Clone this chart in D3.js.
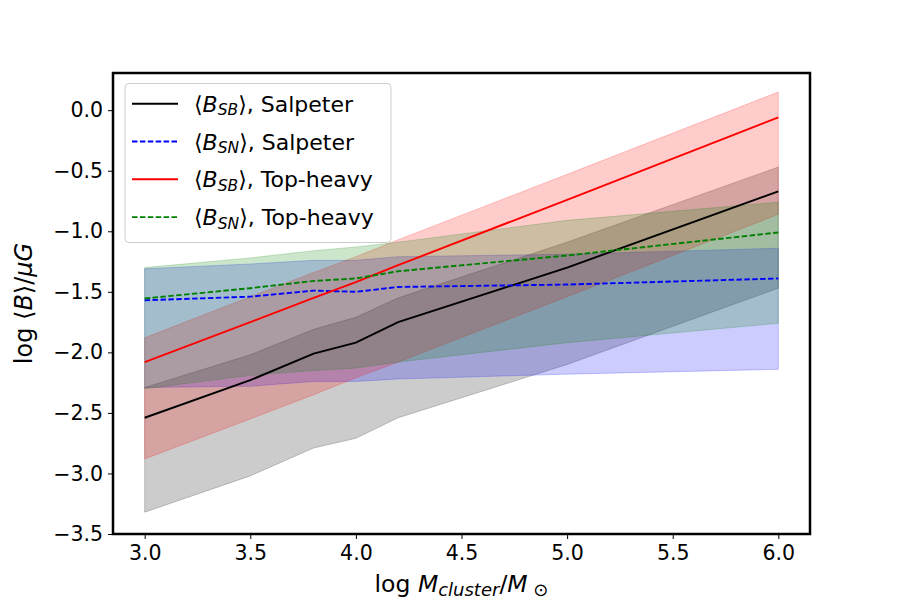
<!DOCTYPE html>
<html>
<head>
<meta charset="utf-8">
<script src="https://cdn.jsdelivr.net/npm/d3@7"></script>
<style>
  body { margin: 0; background: #fff; }
  text { font-family: "DejaVu Sans", sans-serif; }
</style>
</head>
<body>
<div id="chart"></div>
<script>
// cluster masses (log)
const logM = [3.0, 3.5, 3.8, 4.0, 4.2, 5.0, 6.0];

// <B_SB>, Salpeter
const sbSalMean = [-2.54, -2.23, -2.01, -1.92, -1.75, -1.30, -0.67];
const sbSalHi   = [-2.29, -2.02, -1.81, -1.71, -1.55, -1.09, -0.47];
const sbSalLo   = [-3.32, -3.02, -2.79, -2.71, -2.54, -2.10, -1.47];

// <B_SN>, Salpeter
const snSalMean = [-1.57, -1.54, -1.49, -1.50, -1.46, -1.44, -1.39];
const snSalHi   = [-1.31, -1.27, -1.24, -1.24, -1.21, -1.19, -1.14];
const snSalLo   = [-2.29, -2.28, -2.24, -2.24, -2.22, -2.18, -2.14];

// <B_SB>, Top-heavy
const sbTopMean = [-2.08, -1.75, -1.55, -1.42, -1.28, -0.74, -0.06];
const sbTopHi   = [-1.88, -1.54, -1.34, -1.21, -1.07, -0.53, 0.15];
const sbTopLo   = [-2.88, -2.55, -2.35, -2.21, -2.08, -1.54, -0.86];

// <B_SN>, Top-heavy
const snTopMean = [-1.555, -1.47, -1.41, -1.39, -1.33, -1.20, -1.01];
const snTopHi   = [-1.30, -1.22, -1.16, -1.13, -1.09, -0.91, -0.76];
const snTopLo   = [-2.30, -2.19, -2.15, -2.13, -2.08, -1.92, -1.76];

const xTicks = [3.0, 3.5, 4.0, 4.5, 5.0, 5.5, 6.0];
const yTicks = [-3.5, -3.0, -2.5, -2.0, -1.5, -1.0, -0.5, 0.0];

const series = [
  {sub: "SB", name: "Salpeter",  color: "#000000", dash: null,      mean: sbSalMean, hi: sbSalHi, lo: sbSalLo},
  {sub: "SN", name: "Salpeter",  color: "#0000ff", dash: "5.5,2.4", mean: snSalMean, hi: snSalHi, lo: snSalLo},
  {sub: "SB", name: "Top-heavy", color: "#ff0000", dash: null,      mean: sbTopMean, hi: sbTopHi, lo: sbTopLo},
  {sub: "SN", name: "Top-heavy", color: "#008000", dash: "5.5,2.4", mean: snTopMean, hi: snTopHi, lo: snTopLo}
];

const w = 900, h = 600;
const pl = 113, pr = 810, pt = 73, pb = 534;

const svg = d3.select("#chart").append("svg")
  .attr("width", w)
  .attr("height", h);

const xScale = d3.scaleLinear().domain([2.85, 6.15]).range([pl, pr]);
const yScale = d3.scaleLinear().domain([-3.5, 0.307]).range([pb, pt]);

// bands
const area = d3.area()
  .x(d => xScale(d[0]))
  .y0(d => yScale(d[1]))
  .y1(d => yScale(d[2]));

series.forEach(s => {
  const pts = logM.map((m, i) => [m, s.lo[i], s.hi[i]]);
  svg.append("path")
    .datum(pts)
    .attr("d", area)
    .attr("fill", s.color)
    .attr("fill-opacity", 0.2)
    .attr("stroke", s.color)
    .attr("stroke-opacity", 0.2)
    .attr("stroke-width", 1);
});

// mean lines
const line = d3.line()
  .x(d => xScale(d[0]))
  .y(d => yScale(d[1]));

series.forEach(s => {
  svg.append("path")
    .datum(logM.map((m, i) => [m, s.mean[i]]))
    .attr("d", line)
    .attr("fill", "none")
    .attr("stroke", s.color)
    .attr("stroke-width", 1.9)
    .attr("stroke-dasharray", s.dash);
});

// axes
const xAxis = d3.axisBottom(xScale).tickValues(xTicks).tickFormat(d3.format(".1f")).tickSizeOuter(0).tickSize(5).tickPadding(6.5);
const yAxis = d3.axisLeft(yScale).tickValues(yTicks).tickFormat(d => d3.format(".1f")(d).replace("-", "\u2212")).tickSizeOuter(0).tickSize(5).tickPadding(5);

const gx = svg.append("g")
  .attr("transform", "translate(0," + pb + ")")
  .call(xAxis);
const gy = svg.append("g")
  .attr("transform", "translate(" + pl + ",0)")
  .call(yAxis);

[gx, gy].forEach(g => {
  g.select(".domain").remove();
  g.selectAll("text").attr("font-size", 20.5).attr("fill", "#000").attr("font-family", "DejaVu Sans");
  g.selectAll("line").attr("stroke", "#000").attr("stroke-width", 1);
});

// frame
svg.append("rect")
  .attr("x", pl).attr("y", pt)
  .attr("width", pr - pl).attr("height", pb - pt)
  .attr("fill", "none")
  .attr("stroke", "#000")
  .attr("stroke-width", 2.5);

// axis labels
const xl = svg.append("text")
  .attr("x", (pl + pr) / 2)
  .attr("y", 592)
  .attr("text-anchor", "middle")
  .attr("font-size", 23.5);
xl.append("tspan").text("log ");
xl.append("tspan").attr("font-style", "italic").text("M");
xl.append("tspan").attr("font-style", "italic").attr("font-size", 18).attr("dy", 4).text("cluster");
xl.append("tspan").attr("dy", -4).text("/");
xl.append("tspan").attr("font-style", "italic").text("M");
xl.append("tspan").attr("font-size", 18).attr("dy", 4).text(" \u2299");

const yl = svg.append("text")
  .attr("transform", "translate(32," + ((pt + pb) / 2) + ") rotate(-90)")
  .attr("text-anchor", "middle")
  .attr("font-size", 24);
yl.append("tspan").text("log \u27E8");
yl.append("tspan").attr("font-style", "italic").text("B");
yl.append("tspan").text("\u27E9/");
yl.append("tspan").attr("font-style", "italic").text("\u03BCG");

// legend
const lg = svg.append("g");
lg.append("rect")
  .attr("x", 125).attr("y", 83.5)
  .attr("width", 266).attr("height", 159)
  .attr("rx", 4)
  .attr("fill", "#fff")
  .attr("fill-opacity", 0.8)
  .attr("stroke", "#cccccc")
  .attr("stroke-width", 1);

series.forEach((s, i) => {
  const yy = 103.7 + i * 37.8;
  lg.append("line")
    .attr("x1", 132).attr("x2", 178)
    .attr("y1", yy).attr("y2", yy)
    .attr("stroke", s.color)
    .attr("stroke-width", 1.9)
    .attr("stroke-dasharray", s.dash);
  const t = lg.append("text")
    .attr("x", 194)
    .attr("y", yy + 8)
    .attr("font-size", 22);
  t.append("tspan").text("\u27E8");
  t.append("tspan").attr("font-style", "italic").text("B");
  t.append("tspan").attr("font-style", "italic").attr("font-size", 15.5).attr("dy", 3.5).text(s.sub);
  t.append("tspan").attr("dy", -3.5).text("\u27E9, " + s.name);
});
</script>
</body>
</html>
